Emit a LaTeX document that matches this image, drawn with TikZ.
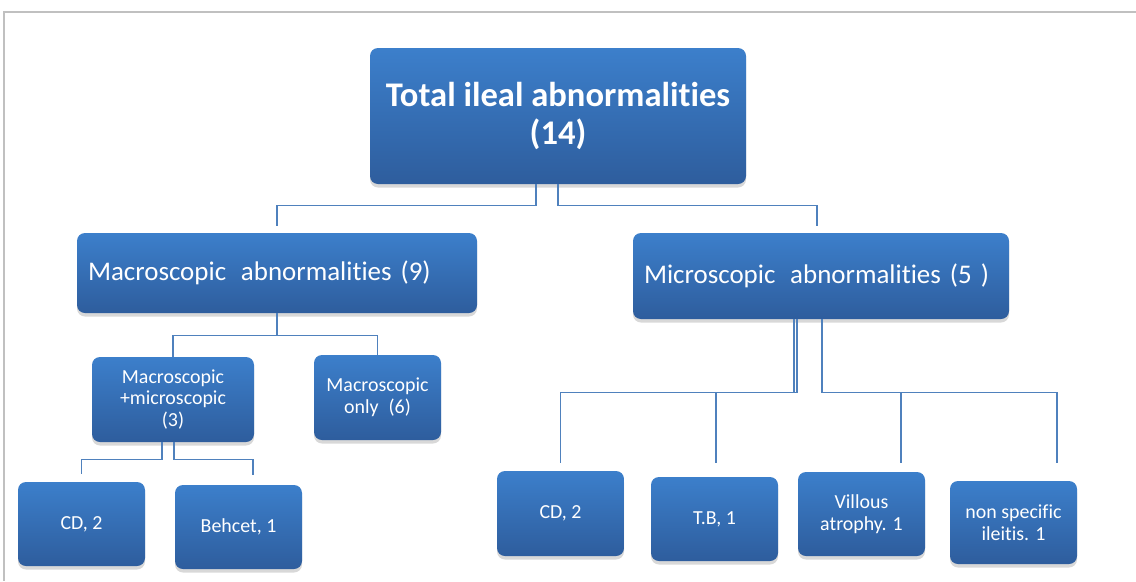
\documentclass[tikz,border=0pt]{standalone}
\usepackage{fontspec}
\setmainfont{Carlito}[Ligatures=NoCommon]
\usetikzlibrary{calc,shadows}
\definecolor{boxtop}{RGB}{60,127,203}
\definecolor{boxbot}{RGB}{46,93,157}
\definecolor{linkc}{RGB}{79,129,189}
\definecolor{framec}{RGB}{192,192,192}
\def\PX{0.03cm}
\begin{document}
\begin{tikzpicture}[x=0.03cm,y=-0.03cm,
  box/.style={rounded corners=8*\PX, top color=boxtop, bottom color=boxbot, draw=none,
    text=white, align=center, inner sep=0pt,
    drop shadow={opacity=0.3, shadow xshift=0pt, shadow yshift=-3pt}},
  leaf/.style={box, minimum width=127*\PX, font=\fontsize{17}{18.5}\selectfont},
  link/.style={draw=linkc, line width=0.9pt}]
\useasboundingbox (0,0) rectangle (1136,581);
\fill[white] (0,0) rectangle (1136,581);
\draw[framec, line width=1.2pt] (1136,12) -- (4,12) -- (4,581);

\node[box, minimum width=376*\PX, minimum height=136*\PX, font=\bfseries\fontsize{29.5}{33}\selectfont]
  (top) at (558,116) {Total ileal abnormalities\\(14)};

\node[box, minimum width=400*\PX, minimum height=80*\PX, text width=378*\PX, align=left,
  font=\fontsize{23}{25}\selectfont] (macro) at (277,273) {Macroscopic\hskip0.55em abnormalities (9)};
\node[box, minimum width=376*\PX, minimum height=86*\PX, text width=354*\PX, align=left,
  font=\fontsize{23}{25}\selectfont] (micro) at (821,276) {Microscopic\hskip0.55em abnormalities (5 )};

\node[leaf, minimum width=162*\PX, minimum height=85*\PX] (mm) at (173,399.5) {Macroscopic\\+microscopic\\(3)};
\node[leaf, minimum height=85*\PX] (monly) at (377.5,397.5) {Macroscopic\\only\hskip0.5em (6)};

\node[leaf, minimum height=84*\PX] (cdA) at (81.5,524) {CD, 2};
\node[leaf, minimum height=84*\PX] (beh) at (238.5,527) {Behcet, 1};

\node[leaf, minimum height=85*\PX] (cdB) at (560.5,513.5) {CD, 2};
\node[leaf, minimum height=84*\PX] (tb) at (714.5,519) {T.B, 1};
\node[leaf, minimum height=84*\PX] (vil) at (861.5,514) {Villous\\atrophy. 1};
\node[leaf, minimum height=83*\PX] (nsi) at (1013.5,522.5) {non specific\\ileitis. 1};

% connectors
\draw[link] ($(top.south)+(-22,0)$) -- ++(0,21) -| ($(macro.north)+(0,-7)$);
\draw[link] (top.south) -- ++(0,21) -| ($(micro.north)+(-4,-7)$);

\draw[link] (macro.south) -- ++(0,22) -| (mm.north);
\draw[link] (macro.south) -- ++(0,22) -| (monly.north);

\draw[link] ($(mm.south)+(-11,0)$) -- ++(0,17) -| ($(cdA.north)+(0,-8)$);
\draw[link] ($(mm.south)+(1,0)$) -- ++(0,17) -| ($(beh.north)+(14.5,-10)$);

\draw[link] ($(micro.south)+(-27,0)$) -- ++(0,73) -| ($(cdB.north)+(0,-8)$);
\draw[link] ($(micro.south)+(-24,0)$) -- ++(0,73) -| ($(tb.north)+(1.5,-14)$);
\draw[link] ($(micro.south)+(1,0)$) -- ++(0,73) -| ($(vil.north)+(39.5,-9)$);
\draw[link] ($(micro.south)+(1,0)$) -- ++(0,73) -| ($(nsi.north)+(43.5,-18)$);
\end{tikzpicture}
\end{document}
